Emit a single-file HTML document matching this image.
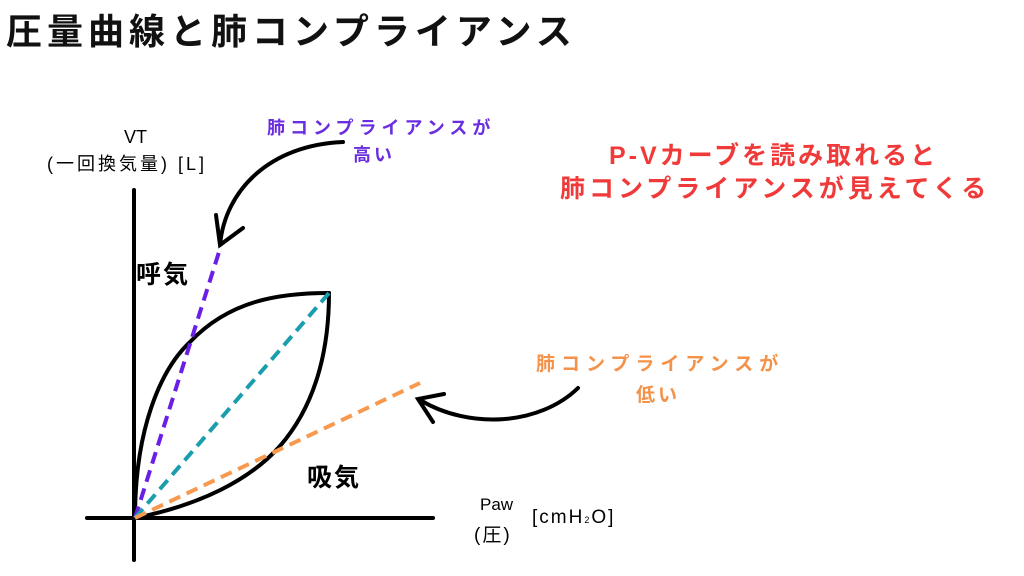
<!DOCTYPE html>
<html><head><meta charset="utf-8"><style>
body{margin:0;background:#fff;width:1024px;height:576px;overflow:hidden;position:relative;font-family:"Liberation Sans","Noto Sans CJK JP",sans-serif}
.t{position:absolute;white-space:nowrap;line-height:1;font-weight:bold}
</style></head><body>
<div class="t" style="left:6px;top:14px;font-size:36px;color:#111;letter-spacing:5px">圧量曲線と肺コンプライアンス</div>
<div class="t" style="left:124px;top:128px;font-size:18px;font-weight:normal">VT</div>
<div class="t" style="left:47px;top:155px;font-size:18px;letter-spacing:3px;font-weight:normal">(一回換気量) [L]</div>
<div class="t" style="left:267px;top:119px;font-size:18px;letter-spacing:5px;color:#6a2de0">肺コンプライアンスが</div>
<div class="t" style="left:353px;top:146px;font-size:18px;letter-spacing:3px;color:#6a2de0">高い</div>
<div class="t" style="left:609px;top:144px;font-size:25px;letter-spacing:3px;color:#f03a3a">P-Vカーブを読み取れると</div>
<div class="t" style="left:560px;top:177px;font-size:25px;letter-spacing:4px;color:#f03a3a">肺コンプライアンスが見えてくる</div>
<div class="t" style="left:536px;top:355px;font-size:19px;letter-spacing:6px;color:#f5924a">肺コンプライアンスが</div>
<div class="t" style="left:636px;top:386px;font-size:19px;letter-spacing:3px;color:#f5924a">低い</div>
<div class="t" style="left:136px;top:263px;font-size:25px;letter-spacing:2px">呼気</div>
<div class="t" style="left:307px;top:466px;font-size:25px;letter-spacing:2px">吸気</div>
<div class="t" style="left:480px;top:496px;font-size:17px;font-weight:normal">Paw</div>
<div class="t" style="left:474px;top:526px;font-size:19px;letter-spacing:2px;font-weight:normal">(圧)</div>
<div class="t" style="left:532px;top:508px;font-size:19px;letter-spacing:2px;font-weight:normal">[cmH<span style="font-size:9px">2</span>O]</div>
<svg width="1024" height="576" style="position:absolute;left:0;top:0">
<g fill="none" stroke="#000" stroke-width="4" stroke-linecap="round">
<line x1="134" y1="190" x2="134" y2="560"/>
<line x1="87" y1="518" x2="433" y2="518"/>
<path d="M135,518 C135,430 160,370 190,342 C230,300 280,293 329,293"/>
<path d="M135,518 C200,505 250,480 280,446 C320,400 329,340 329,293"/>
<path d="M343,142 C270,145 225,190 220,245"/>
<path d="M216,215 L220,245 L243,228"/>
<path d="M578,388 C540,425 470,430 420,400"/>
<path d="M444,394 L418,399 L433,422"/>
</g>
<g fill="none" stroke-width="4" stroke-dasharray="12,7">
<line x1="135" y1="518" x2="219" y2="252" stroke="#6a1fe6"/>
<line x1="135" y1="518" x2="329" y2="293" stroke="#1a9eae"/>
<line x1="135" y1="518" x2="420" y2="383" stroke="#f79a50"/>
</g>
</svg>
</body></html>
